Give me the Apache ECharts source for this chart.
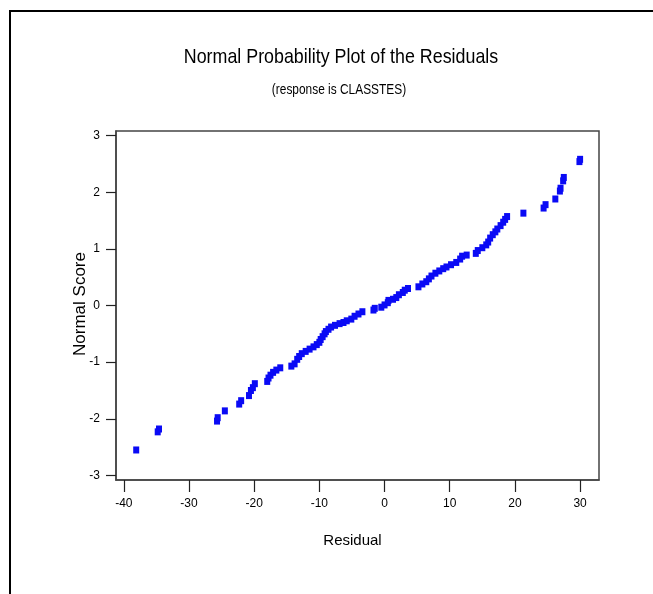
<!DOCTYPE html>
<html>
<head>
<meta charset="utf-8">
<script src="https://cdn.jsdelivr.net/npm/echarts@6/dist/echarts.min.js"></script>
<style>
  html, body { margin: 0; padding: 0; background: #fff; }
  #chart { width: 653px; height: 594px; }
</style>
</head>
<body>
<div id="chart"></div>
<script>
// residual vs normal score
const residuals = [
  -38.1, -34.8, -34.6, -25.7, -25.6, -24.5, -22.3, -22.0,
  -20.8, -20.5, -20.2, -19.9, -18.0, -17.8, -17.5, -17.1, -16.6, -16.0,
  -14.3, -13.8, -13.4, -13.1, -12.7, -12.1, -11.5, -10.9,
  -10.4, -10.0, -9.8, -9.5, -9.2, -9.0, -8.6, -8.2, -7.6, -6.9, -6.3, -5.8, -5.1, -4.6, -4.0, -3.4,
  -1.7, -1.5, -0.5, 0.0, 0.5, 0.6, 1.3, 1.8, 2.2, 2.8, 3.1, 3.6,
  5.2, 5.8, 6.4, 6.8, 7.2, 7.8, 8.4, 9.0, 9.5, 10.2, 11.0, 11.6, 11.9, 12.6,
  14.0, 14.3, 15.0, 15.6, 15.9, 16.2, 16.6, 17.0, 17.3, 17.8, 18.2, 18.5, 18.8,
  21.3, 24.4, 24.7, 26.2, 26.9, 27.0, 27.4, 27.5, 29.9, 30.0
]
const normalScores = [
  -2.55, -2.23, -2.18, -2.04, -1.98, -1.86, -1.74, -1.68,
  -1.59, -1.50, -1.45, -1.38, -1.34, -1.28, -1.23, -1.18, -1.14, -1.10,
  -1.07, -1.03, -0.95, -0.90, -0.85, -0.81, -0.77, -0.73,
  -0.69, -0.65, -0.60, -0.55, -0.50, -0.46, -0.42, -0.38, -0.35, -0.32, -0.30, -0.27, -0.24, -0.19, -0.15, -0.11,
  -0.08, -0.05, -0.03, 0.01, 0.05, 0.09, 0.11, 0.14, 0.19, 0.23, 0.27, 0.30,
  0.33, 0.38, 0.42, 0.47, 0.52, 0.57, 0.61, 0.65, 0.68, 0.72, 0.76, 0.82, 0.87, 0.89,
  0.92, 0.97, 1.02, 1.07, 1.12, 1.19, 1.25, 1.30, 1.35, 1.41, 1.47, 1.52, 1.57,
  1.63, 1.72, 1.78, 1.88, 2.02, 2.07, 2.20, 2.26, 2.54, 2.58
]
const xTicks = [-40, -30, -20, -10, 0, 10, 20, 30]
const yTicks = [-3, -2, -1, 0, 1, 2, 3]

const chart = echarts.init(document.getElementById('chart'))
const sans = '"Liberation Sans", Arial, sans-serif'
const axisCol = '#444'

let points = residuals.map((r, i) => [r, normalScores[i]])

let option = {
  backgroundColor: '#fff',
  animation: false,
  grid: {
    left: 116, right: 54, top: 131, bottom: 114,
    show: true, borderColor: axisCol, borderWidth: 1.5
  },
  xAxis: {
    type: 'value',
    min: -41.2, max: 32.9,
    name: 'Residual',
    nameLocation: 'middle',
    nameGap: 53,
    nameTextStyle: { fontFamily: sans, fontSize: 15, color: '#000', padding: [0, 10, 0, 0] },
    splitLine: { show: false },
    axisLine: { onZero: false, lineStyle: { color: axisCol, width: 1.5 } },
    axisTick: { customValues: xTicks, length: 12, lineStyle: { color: '#222', width: 1.2 } },
    axisLabel: { customValues: xTicks, margin: 18, fontFamily: sans, fontSize: 12, color: '#000' }
  },
  yAxis: {
    type: 'value',
    min: -3.08, max: 3.08,
    splitLine: { show: false },
    axisLine: { onZero: false, lineStyle: { color: axisCol, width: 1.5 } },
    axisTick: { customValues: yTicks, length: 10, lineStyle: { color: '#222', width: 1.2 } },
    axisLabel: { customValues: yTicks, margin: 16, fontFamily: sans, fontSize: 12, color: '#000' }
  },
  graphic: [
    { type: 'line', shape: { x1: 10, y1: 11, x2: 653, y2: 11 }, style: { stroke: '#000', lineWidth: 2 } },
    { type: 'line', shape: { x1: 10, y1: 10, x2: 10, y2: 594 }, style: { stroke: '#000', lineWidth: 2 } },
    {
      type: 'text', x: 341, y: 57, scaleX: 0.85,
      style: { text: 'Normal Probability Plot of the Residuals', fontFamily: sans, fontSize: 21,
               fill: '#000', textAlign: 'center', textVerticalAlign: 'middle' }
    },
    {
      type: 'text', x: 339, y: 90, scaleX: 0.85,
      style: { text: '(response is CLASSTES)', fontFamily: sans, fontSize: 14,
               fill: '#000', textAlign: 'center', textVerticalAlign: 'middle' }
    },
    {
      type: 'text', x: 80, y: 304, rotation: Math.PI / 2,
      style: { text: 'Normal Score', fontFamily: sans, fontSize: 17,
               fill: '#000', textAlign: 'center', textVerticalAlign: 'middle' }
    }
  ],
  series: [{
    type: 'scatter',
    data: points,
    symbol: 'rect',
    symbolSize: [6, 7],
    itemStyle: { color: '#0a0af5', opacity: 1 }
  }]
}

chart.setOption(option)
</script>
</body>
</html>
